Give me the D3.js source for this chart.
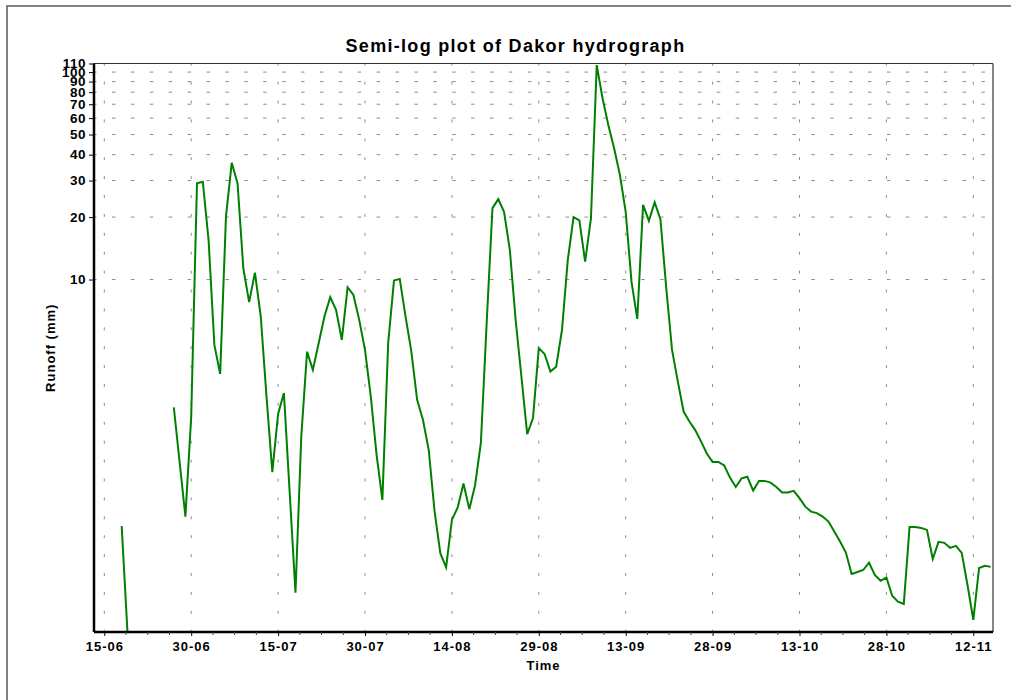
<!DOCTYPE html>
<html>
<head>
<meta charset="utf-8">
<script src="https://cdn.jsdelivr.net/npm/d3@7/dist/d3.min.js"></script>
<style>
  html, body { margin: 0; padding: 0; background: #fff; }
  svg { display: block; }
  text { font-family: "Liberation Sans", Arial, sans-serif; font-weight: bold; fill: #000; }
</style>
</head>
<body>
<svg id="chart" width="1011" height="700"></svg>
<script>
// ---- data ----
const title = "Semi-log plot of Dakor hydrograph";
const xTitle = "Time";
const yTitle = "Runoff (mm)";
const seriesStart = "2001-06-15";            // first day of the daily runoff series
const runoff = [                               // daily runoff (mm), null = missing
  null, null, null, 0.649, 0.2, null, null, null, null, null, null, null,
  2.42, 1.32, 0.72, 2.18, 29.1, 29.6, 15.5, 4.84, 3.51, 20.1, 36.6, 29.1,
  11.3, 7.78, 10.8, 6.67, 2.73, 1.18, 2.25, 2.84, 0.94, 0.309, 1.75, 4.49,
  3.67, 4.93, 6.63, 8.22, 7.14, 5.12, 9.18, 8.43, 6.39, 4.58, 2.73, 1.43,
  0.867, 4.93, 9.88, 10.07, 6.63, 4.49, 2.63, 2.11, 1.51, 0.767, 0.48, 0.41,
  0.694, 0.797, 1.04, 0.782, 1.02, 1.63, 6.16, 22.1, 24.4, 21.2, 13.9, 6.39,
  3.40, 1.80, 2.15, 4.67, 4.38, 3.60, 3.80, 5.71, 12.4, 20.0, 19.3, 12.2,
  19.7, 108, 74.8, 55.6, 42.9, 31.9, 21.2, 9.77, 6.46, 22.9, 19.2, 23.6,
  19.5, 9.08, 4.58, 3.22, 2.31, 2.07, 1.88, 1.66, 1.45, 1.32, 1.32, 1.27,
  1.11, 1.00, 1.10, 1.12, 0.961, 1.07, 1.07, 1.05, 1.00, 0.94, 0.94, 0.958,
  0.883, 0.804, 0.761, 0.748, 0.72, 0.681, 0.61, 0.546, 0.483, 0.381, 0.389, 0.398,
  0.432, 0.377, 0.353, 0.366, 0.299, 0.28, 0.273, 0.642, 0.642, 0.635, 0.621, 0.45,
  0.544, 0.538, 0.509, 0.52, 0.481, 0.337, 0.229, 0.407, 0.417, 0.412
];
const xTickLabels = ["15-06", "30-06", "15-07", "30-07", "14-08", "29-08",
                     "13-09", "28-09", "13-10", "28-10", "12-11"];
const yTickValues = [10, 20, 30, 40, 50, 60, 70, 80, 90, 100, 110];
const yDomain = [0.2, 110];
const xDomain = ["2001-06-13T05:20:00Z", "2001-11-15T09:36:00Z"];

// ---- layout ----
const svg = d3.select("#chart");
const L = 94, R = 993, T = 63.5, B = 632;
const DAY = 864e5;
const t0 = Date.parse(seriesStart + "T00:00:00Z");

const x = d3.scaleUtc().domain(xDomain.map(d => new Date(d))).range([L, R]);
const y = d3.scaleLog().domain(yDomain).range([B, T]);

const series = runoff.map((v, i) => ({ date: new Date(t0 + i * DAY), v }));
const tickDates = xTickLabels.map(s => {
  const [dd, mm] = s.split("-").map(Number);
  return new Date(Date.UTC(2001, mm - 1, dd));
});

// outer frame
svg.append("rect").attr("x", 7).attr("y", 6).attr("width", 1020).attr("height", 720)
  .attr("fill", "none").attr("stroke", "#5a5a5a").attr("stroke-width", 1.5);

// gridlines
const grid = svg.append("g");
grid.selectAll(".hg").data(yTickValues).join("line")
  .attr("x1", L).attr("x2", R)
  .attr("y1", d => y(d)).attr("y2", d => y(d))
  .attr("stroke", "#8c8c8c").attr("stroke-width", 1)
  .attr("stroke-dasharray", "3.5 15.4").attr("stroke-dashoffset", 0.9);
grid.selectAll(".vg").data(tickDates).join("line")
  .attr("x1", d => x(d)).attr("x2", d => x(d))
  .attr("y1", B).attr("y2", T)
  .attr("stroke", "#8c8c8c").attr("stroke-width", 1)
  .attr("stroke-dasharray", "3 15.9").attr("stroke-dashoffset", 0.7);

// clip
svg.append("clipPath").attr("id", "clip").append("rect")
  .attr("x", L).attr("y", T).attr("width", R - L).attr("height", B - T);

// line
const line = d3.line()
  .defined(d => d.v != null)
  .x(d => x(d.date))
  .y(d => y(d.v));
svg.append("path").datum(series)
  .attr("clip-path", "url(#clip)")
  .attr("d", line)
  .attr("fill", "none").attr("stroke", "#008000").attr("stroke-width", 2)
  .attr("stroke-linejoin", "miter");

// plot border (top/right thin)
svg.append("line").attr("x1", L).attr("x2", R).attr("y1", T).attr("y2", T)
  .attr("stroke", "#333").attr("stroke-width", 1);
svg.append("line").attr("x1", R).attr("x2", R).attr("y1", T).attr("y2", B)
  .attr("stroke", "#333").attr("stroke-width", 1.2);

// x axis
const xAxis = d3.axisBottom(x).tickValues(tickDates)
  .tickFormat((d, i) => xTickLabels[i]).tickSize(4).tickPadding(6);
const gx = svg.append("g").attr("transform", `translate(0,${B})`).call(xAxis);
gx.select(".domain").attr("stroke", "#000").attr("stroke-width", 2.5)
  .attr("d", `M${L},0H${R}`);
gx.selectAll("text").attr("font-size", 13).attr("letter-spacing", 1)
  .style("font-family", "'Liberation Sans', Arial, sans-serif").style("font-weight", "bold");
// minor x ticks (quarters between labelled ticks)
const minor = [];
for (let i = 0; i < tickDates.length - 1; i++) {
  const a = tickDates[i].getTime(), b = tickDates[i + 1].getTime();
  for (let k = 1; k < 4; k++) minor.push(new Date(a + (b - a) * k / 4));
}
gx.selectAll(".minor").data(minor).join("line")
  .attr("x1", d => x(d)).attr("x2", d => x(d)).attr("y1", 0).attr("y2", 3)
  .attr("stroke", "#444").attr("stroke-width", 1);

// y axis
const yAxis = d3.axisLeft(y).tickValues(yTickValues).tickFormat(d3.format("d"))
  .tickSize(5).tickPadding(3);
const gy = svg.append("g").attr("transform", `translate(${L},0)`).call(yAxis);
gy.select(".domain").attr("stroke", "#000").attr("stroke-width", 2.5)
  .attr("d", `M0,${T}V${B}`);
gy.selectAll("text").attr("font-size", 13.5).attr("letter-spacing", 0.5)
  .style("font-family", "'Liberation Sans', Arial, sans-serif").style("font-weight", "bold");

// titles
svg.append("text").attr("x", 515.5).attr("y", 52).attr("text-anchor", "middle")
  .attr("font-size", 18).attr("letter-spacing", 1.3).text(title);
svg.append("text").attr("x", (L + R) / 2).attr("y", 670).attr("text-anchor", "middle")
  .attr("font-size", 13).attr("letter-spacing", 1).text(xTitle);
svg.append("text").attr("transform", `translate(55,${(T + B) / 2}) rotate(-90)`)
  .attr("text-anchor", "middle").attr("font-size", 13).attr("letter-spacing", 1).text(yTitle);
</script>
</body>
</html>
